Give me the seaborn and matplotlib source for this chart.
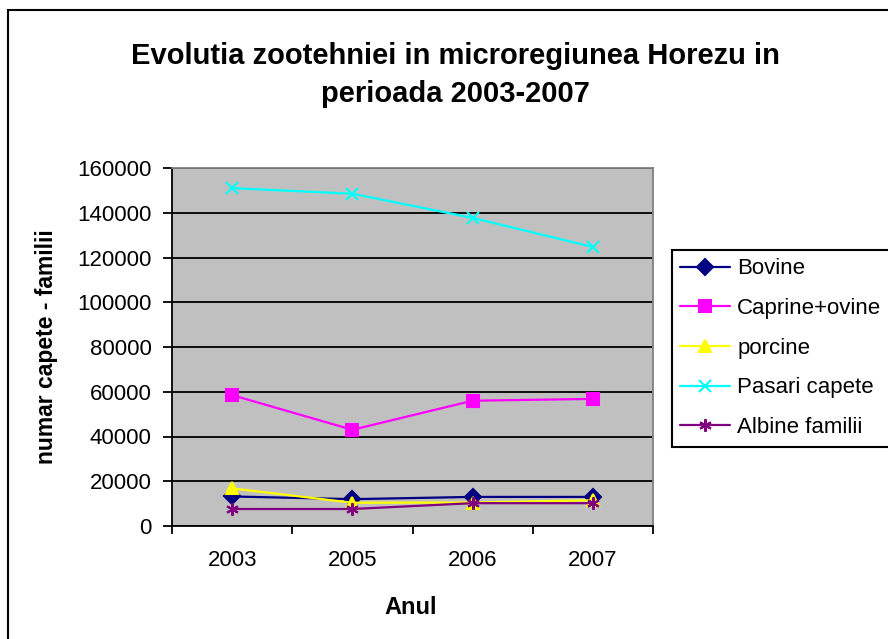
import numpy as np
import pandas as pd
import matplotlib
matplotlib.use("Agg")
import matplotlib.pyplot as plt
import seaborn as sns
from matplotlib.patches import Rectangle
from matplotlib.ticker import FixedLocator

sns.set_style("white")
plt.rcParams['font.family'] = ['Liberation Sans', 'DejaVu Sans']
plt.rcParams.update({'text.color': 'black', 'axes.labelcolor': 'black',
                     'xtick.color': 'black', 'ytick.color': 'black'})

years = ["2003", "2005", "2006", "2007"]
bovine = [13200, 12000, 13000, 13000]
caprine_ovine = [58500, 43000, 56000, 56800]
porcine = [16800, 10400, 10500, 11500]
pasari = [151000, 148500, 137700, 124700]
albine = [7600, 7600, 10200, 10200]

series_names = ["Bovine", "Caprine+ovine", "porcine", "Pasari capete", "Albine familii"]
series_values = [bovine, caprine_ovine, porcine, pasari, albine]
colors = ["#000080", "#FF00FF", "#FFFF00", "#00FFFF", "#800080"]
markers = ["D", "s", "^", "x", (6, 2, 0)]
msizes = [8, 8, 9, 8, 9]

df = pd.DataFrame({
    "Anul": years * len(series_names),
    "valoare": np.concatenate(series_values),
    "serie": np.repeat(series_names, len(years)),
})

fig = plt.figure(figsize=(8.88, 6.39), dpi=100)
ax = fig.add_axes([172 / 888, 1 - 526 / 639, 481 / 888, 358 / 639])
ax.set_facecolor("#C0C0C0")

for name, col, mk, ms in zip(series_names, colors, markers, msizes):
    sub = df[df["serie"] == name]
    sns.lineplot(data=sub, x="Anul", y="valoare", ax=ax, color=col, marker=mk,
                 markersize=ms, markeredgecolor=col, markerfacecolor=col,
                 markeredgewidth=1.5, linewidth=1.6, label=name, sort=False)

ax.set_xlim(-0.5, 3.5)
ax.set_ylim(0, 160000)
ax.set_yticks(np.arange(0, 160001, 20000))
ax.yaxis.grid(True, color="black", linewidth=1.3)
ax.set_axisbelow(True)

ax.set_xticks(range(len(years)))
ax.set_xticklabels(years)
ax.xaxis.set_minor_locator(FixedLocator(np.arange(-0.5, 3.6, 1.0)))
ax.tick_params(axis="x", which="major", length=0, pad=17, labelsize=16)
ax.tick_params(axis="x", which="minor", direction="out", length=6, width=1.3,
               color="black", bottom=True)
ax.tick_params(axis="y", direction="out", length=6.5, width=1.3, pad=8,
               labelsize=16, left=True, color="black")

for side in ["left", "bottom"]:
    ax.spines[side].set_color("black")
    ax.spines[side].set_linewidth(1.3)
for side in ["top", "right"]:
    ax.spines[side].set_color("#808080")
    ax.spines[side].set_linewidth(1.3)

ax.set_xlabel("Anul", fontsize=17, fontweight="bold")
ax.xaxis.set_label_coords(0.497, -0.195)
ax.set_ylabel("numar capete - familii", fontsize=16.5, fontweight="bold")
ax.yaxis.set_label_coords(-0.237, 0.5)

leg = ax.legend(loc="upper left", bbox_to_anchor=(672 / 888, 1 - 250 / 639),
                bbox_transform=fig.transFigure, fontsize=16, frameon=True,
                fancybox=False, edgecolor="black", framealpha=1,
                borderaxespad=0, handlelength=2.25, handletextpad=0.3,
                labelspacing=0.84, borderpad=0.38)
leg.get_frame().set_linewidth(1.5)

fig.text(455 / 888, 1 - 75 / 639,
         "Evolutia zootehniei in microregiunea Horezu in\nperioada 2003-2007",
         ha="center", va="center", fontsize=21, fontweight="bold",
         linespacing=1.47)

fig.patches.append(Rectangle((8 / 888, -0.2), 1.2, 0.2 + 1 - 10 / 639,
                             transform=fig.transFigure, fill=False,
                             edgecolor="black", linewidth=1.5))

fig.savefig("out.png", dpi=100)
